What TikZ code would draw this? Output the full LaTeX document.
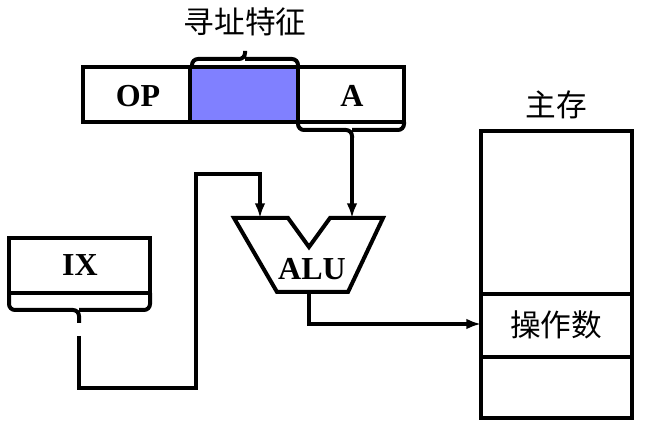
\documentclass[tikz,border=0pt]{standalone}
\usepackage{fontspec}
\setmainfont{Liberation Serif}
\newfontfamily\cjk{Noto Sans CJK SC}
\usetikzlibrary{arrows.meta}
\begin{document}
\begin{tikzpicture}[x=0.75pt,y=-0.75pt,
  ln/.style={line width=3pt},
  br/.style={line width=3pt,rounded corners=4.5pt},
  ar/.style={line width=3pt,-{Latex[length=11pt,width=8pt]}},
  bt/.style={font=\fontsize{24}{26}\selectfont\bfseries},
  ct/.style={font=\cjk\fontsize{23}{26}\selectfont}]
\useasboundingbox (0,0) rectangle (657,427);
% instruction
\fill[fill={rgb,255:red,128;green,128;blue,255}] (190,67) rectangle (298,122);
\draw[ln] (83,67) rectangle (404,122);
\draw[ln] (190,67) -- (190,122) (298,67) -- (298,122);
\node[bt] (op) at (138,96) {OP};
\node[bt] (a) at (352,96) {A};
\draw[br] (192,67) -- (192,59) -- (245,59) -- (245,51) (245,59) -- (298,59) -- (298,67);
\node[ct] (tz) at (245,22) {寻址特征};
\draw[br] (298,122) -- (298,130) -- (352,130) -- (352,138) (352,130) -- (404,130) -- (404,122);
% ALU
\draw[ln,line join=miter] (234,218) -- (288,218) -- (309,247) -- (330,218) -- (383,218) -- (348,292) -- (277,292) -- cycle;
\node[bt] (alu) at (312,269) {ALU};
\coordinate (ai) at (260,218);
\coordinate (aa) at (352,218);
\draw[ar] (352,138) -- (aa);
% IX
\draw[ln] (9,293) -- (9,238) -- (150,238) -- (150,293) -- cycle;
\node[bt] (ix) at (80,265) {IX};
\draw[br] (9,293) -- (9,310) -- (79,310) -- (79,323) (79,310) -- (150,310) -- (150,293);
\coordinate (ixo) at (79,336);
\draw[ar] (ixo) -- (79,388) -- (196,388) -- (196,174) -- (260,174) -- (ai);
% memory
\draw[ln] (481,131) rectangle (632,418);
\draw[ln] (481,294) -- (632,294) (481,357) -- (632,357);
\node[ct] (mem) at (556,105) {主存};
\node[ct] (opd) at (556,325) {操作数};
\coordinate (mo) at (309,292);
\draw[ar] (mo) -- (309,324) -- (481,324);
\end{tikzpicture}
\end{document}
